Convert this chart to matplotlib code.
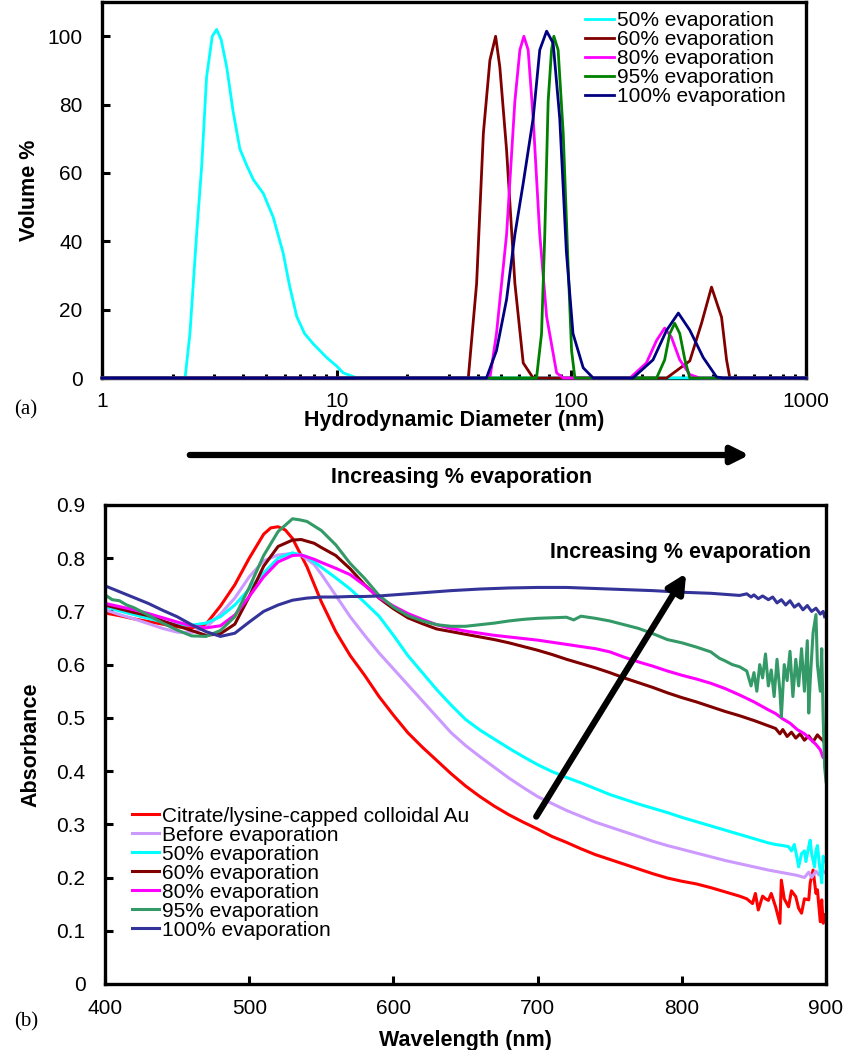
import matplotlib
matplotlib.use("Agg")
import matplotlib.pyplot as plt
from matplotlib.ticker import FuncFormatter, FixedLocator, NullFormatter

plt.rcParams['font.family'] = ['Liberation Sans', 'DejaVu Sans']
plt.rcParams['font.size'] = 15

# ---- (a) DLS size distributions ----
dls_labels = ['50% evaporation', '60% evaporation', '80% evaporation',
              '95% evaporation', '100% evaporation']
dls_colors = ['#00FFFF', '#800000', '#FF00FF', '#008000', '#000080']

d50 = [1.0, 2.26, 2.37, 2.53, 2.66, 2.79, 2.95, 3.08, 3.22, 3.40, 3.62, 3.87, 4.15, 4.42, 4.87,
       5.37, 5.92, 6.3, 6.76, 7.3, 7.95, 9.06, 10.0, 10.67, 12.2, 1000]
v50 = [0, 0, 13, 42, 62, 88, 100, 102, 99, 91, 78, 67, 62, 58, 54,
       47, 36.5, 27, 18, 13, 10, 6, 3.5, 1.5, 0, 0]

d60 = [1.0, 36.4, 39.5, 42.2, 45.0, 47.6, 49.6, 53.0, 57.5, 62.4, 68.8,
       255, 320, 359, 396, 437, 459, 474, 1000]
v60 = [0, 0, 27.7, 71.6, 93, 100, 91, 66.7, 27.7, 4.4, 0,
       0, 5, 16, 26.6, 17.8, 5.3, 0, 0]

d80 = [1.0, 45, 48, 53, 57.5, 60.4, 62.8, 65.5, 68.8, 73.4, 78.5, 86.6, 92.4,
       178, 209, 231, 250, 267, 290, 320, 353, 1000]
v80 = [0, 0, 13, 42, 81, 96, 100, 96, 76, 42, 18, 1.5, 0,
       0, 4.4, 11, 14.6, 12, 5.3, 1, 0, 0]

d95 = [1.0, 71.1, 74.7, 77.1, 79.7, 82.4, 84.3, 87.9, 92.4, 97.0, 100.3, 103.6,
       231, 250, 263, 276, 290, 305, 320, 1000]
v95 = [0, 0, 13, 42, 81, 96, 100, 96, 71.6, 32.5, 8, 0,
       0, 5.3, 13, 16, 13, 5.3, 0, 0]

d100 = [1.0, 43.5, 48, 53, 57.5, 62.4, 68.8, 73.4, 78.5, 83.7, 89.3, 95.3, 101.7, 112.4, 124,
        183, 223, 255, 286, 320, 365, 416, 444, 1000]
v100 = [0, 0, 8, 23, 42, 57, 76, 96, 101.5, 98, 76, 37, 13, 3, 0,
        0, 5.3, 14, 19, 14, 6, 0.3, 0, 0]

dls_x = [d50, d60, d80, d95, d100]
dls_y = [v50, v60, v80, v95, v100]

# ---- (b) UV-vis spectra ----
uv_labels = ['Citrate/lysine-capped colloidal Au', 'Before evaporation', '50% evaporation',
             '60% evaporation', '80% evaporation', '95% evaporation', '100% evaporation']
uv_colors = ['#FF0000', '#CC99FF', '#00FFFF', '#800000', '#FF00FF', '#339966', '#333399']

wl_red = [400, 410, 420, 430, 440, 450, 460, 470, 480, 490, 500, 510, 515, 520, 525, 530, 540,
          550, 560, 570, 580, 590, 600, 610, 620, 630, 640, 650, 660, 670, 680, 690, 700, 710,
          720, 730, 740, 750, 760, 770, 780, 790, 800, 810, 820, 830, 840, 845, 849, 851, 853,
          856, 858, 860, 862, 865, 868, 869, 871, 874, 876, 879, 881, 883, 885, 888, 889, 891,
          893, 894, 896, 897, 898, 899]
a_red = [.697, .692, .686, .681, .676, .671, .669, .676, .71, .75, .80, .845, .857, .859, .853,
         .837, .784, .718, .662, .617, .58, .54, .505, .472, .445, .42, .395, .372, .352, .334,
         .318, .304, .291, .277, .266, .254, .243, .234, .225, .216, .207, .199, .193, .188, .181,
         .173, .165, .16, .151, .17, .139, .165, .16, .157, .17, .145, .114, .195, .16, .145,
         .175, .164, .142, .133, .16, .158, .19, .214, .17, .177, .117, .158, .114, .13]

wl_before = [400, 410, 420, 430, 440, 450, 460, 470, 480, 490, 500, 510, 520, 530, 536, 545, 550,
             560, 570, 580, 590, 600, 610, 620, 630, 640, 650, 660, 670, 680, 690, 700, 710, 720,
             730, 740, 750, 760, 770, 780, 790, 800, 810, 820, 830, 840, 850, 860, 870, 880, 885,
             888, 890, 893, 895, 897, 899]
a_before = [.703, .694, .686, .677, .668, .661, .66, .67, .695, .725, .765, .795, .806, .809,
            .806, .788, .77, .73, .69, .655, .622, .592, .562, .532, .502, .472, .448, .427,
            .407, .387, .369, .352, .339, .326, .315, .304, .295, .286, .277, .268, .26, .253,
            .246, .239, .232, .226, .22, .214, .209, .204, .2, .21, .2, .212, .205, .215, .21]

wl_50 = [400, 410, 420, 430, 440, 450, 460, 470, 480, 490, 500, 510, 520, 530, 540, 550, 560,
         570, 580, 590, 600, 610, 620, 630, 640, 650, 660, 670, 680, 690, 700, 710, 720, 730, 740,
         750, 760, 770, 780, 790, 800, 810, 820, 830, 840, 850, 860, 865, 870, 874, 876, 878, 880,
         881, 883, 885, 886, 888, 889, 890, 892, 893, 894, 895, 896, 897, 898, 899]
a_50 = [.709, .701, .694, .687, .68, .675, .674, .678, .69, .712, .742, .772, .8, .81, .803,
        .783, .763, .742, .717, .691, .655, .617, .585, .553, .524, .497, .477, .46, .443, .427,
        .412, .399, .388, .378, .367, .356, .347, .338, .33, .322, .313, .305, .297, .289, .281,
        .273, .265, .262, .26, .258, .25, .262, .235, .22, .245, .25, .23, .258, .27, .245, .22,
        .25, .26, .235, .21, .19, .24, .23]

wl_60 = [400, 410, 420, 430, 440, 450, 460, 470, 480, 490, 500, 510, 520, 530, 536, 545, 550,
         560, 570, 580, 590, 600, 610, 620, 630, 640, 650, 660, 670, 680, 690, 700, 710, 720, 730,
         740, 750, 760, 770, 780, 790, 800, 810, 820, 830, 840, 850, 860, 865, 868, 870, 873, 876,
         879, 882, 885, 888, 891, 894, 896, 898, 899]
a_60 = [.712, .705, .698, .692, .682, .673, .664, .655, .658, .676, .728, .785, .822, .834, .835,
        .828, .82, .805, .78, .75, .725, .705, .688, .677, .667, .662, .657, .652, .647, .641,
        .634, .627, .619, .61, .602, .594, .585, .575, .566, .557, .547, .538, .53, .521, .512,
        .504, .495, .485, .48, .47, .478, .465, .473, .462, .47, .458, .466, .455, .468, .462,
        .457, .452]

wl_80 = [400, 410, 420, 430, 440, 450, 460, 470, 480, 490, 500, 510, 520, 530, 536, 545, 550,
         560, 570, 580, 590, 600, 610, 620, 630, 640, 650, 660, 670, 680, 690, 700, 710, 720, 730,
         740, 750, 760, 770, 780, 790, 800, 810, 820, 830, 840, 850, 860, 865, 870, 875, 880, 885,
         890, 893, 896, 898, 899]
a_80 = [.715, .709, .703, .696, .688, .68, .673, .669, .673, .693, .728, .765, .793, .805, .806,
        .798, .792, .781, .769, .749, .726, .71, .696, .685, .675, .668, .663, .659, .655, .652,
        .649, .646, .642, .638, .634, .63, .624, .614, .605, .597, .588, .58, .573, .565, .555,
        .543, .53, .515, .508, .498, .49, .478, .47, .458, .45, .44, .425, .43]

wl_95 = [400, 405, 410, 415, 420, 430, 440, 450, 460, 470, 480, 490, 500, 510, 520, 530, 535,
         540, 550, 560, 570, 580, 590, 600, 610, 620, 630, 640, 650, 660, 670, 680, 690, 700, 710,
         720, 725, 730, 740, 750, 760, 770, 780, 790, 800, 810, 820, 826, 830, 835, 840, 845, 848,
         850, 852, 854, 856, 858, 860, 862, 864, 866, 868, 869, 871, 873, 875, 877, 879, 881, 883,
         885, 887, 888, 889, 891, 893, 894, 896, 897, 898, 899, 900]
a_95 = [.731, .722, .72, .712, .707, .693, .678, .665, .654, .653, .664, .69, .745, .805, .85,
        .874, .872, .869, .852, .825, .79, .762, .73, .708, .692, .682, .675, .672, .672, .675,
        .678, .682, .685, .687, .688, .689, .684, .691, .687, .682, .675, .668, .658, .647, .641,
        .633, .624, .612, .607, .6, .596, .588, .56, .585, .55, .6, .575, .62, .56, .59, .54,
        .61, .55, .502, .6, .57, .625, .54, .61, .56, .63, .55, .645, .509, .57, .66, .694, .6,
        .55, .63, .5, .408, .38]

wl_100 = [400, 410, 420, 430, 440, 450, 460, 470, 480, 490, 500, 510, 520, 530, 540, 550, 560,
          570, 580, 590, 600, 620, 640, 660, 680, 700, 720, 740, 760, 780, 800, 820, 830, 840,
          845, 848, 850, 853, 856, 860, 863, 866, 869, 872, 875, 878, 881, 884, 887, 890, 893,
          896, 898, 899]
a_100 = [.748, .737, .726, .715, .702, .69, .675, .662, .653, .659, .68, .7, .712, .721, .725,
         .727, .727, .728, .728, .729, .731, .735, .739, .742, .744, .745, .745, .743, .741, .739,
         .736, .734, .732, .73, .733, .727, .731, .724, .729, .722, .727, .716, .722, .712, .72,
         .708, .714, .703, .711, .7, .706, .695, .7, .69]

uv_x = [wl_red, wl_before, wl_50, wl_60, wl_80, wl_95, wl_100]
uv_y = [a_red, a_before, a_50, a_60, a_80, a_95, a_100]

fig = plt.figure(figsize=(8.43, 10.5), dpi=100)

# ---------------- panel (a) ----------------
ax1 = fig.add_axes([0.121, 0.64, 0.835, 0.358])
for x, y, c, lab in zip(dls_x, dls_y, dls_colors, dls_labels):
    ax1.plot(x, y, color=c, lw=2.0, label=lab, zorder=3, clip_on=False)
ax1.set_xscale('log')
ax1.set_xlim(1, 1000)
ax1.set_ylim(0, 110)
ax1.set_yticks([0, 20, 40, 60, 80, 100])
ax1.xaxis.set_major_locator(FixedLocator([1, 10, 100, 1000]))
ax1.xaxis.set_major_formatter(FuncFormatter(lambda v, p: '%d' % v))
ax1.xaxis.set_minor_formatter(NullFormatter())
ax1.tick_params(axis='both', which='major', direction='in', length=6, width=2.2)
ax1.tick_params(axis='x', which='major', pad=10)
ax1.tick_params(axis='y', which='major', pad=14)
ax1.tick_params(axis='x', which='minor', direction='in', length=3, width=2.2)
for s in ax1.spines.values():
    s.set_linewidth(2.4)
ax1.set_xlabel('Hydrodynamic Diameter (nm)', fontweight='bold', fontsize=15.5)
ax1.xaxis.set_label_coords(0.5, -0.085)
ax1.set_ylabel('Volume %', fontweight='bold', fontsize=15.5)
ax1.yaxis.set_label_coords(-0.088, 0.5)
ax1.legend(loc='upper left', bbox_to_anchor=(0.686, 0.975), frameon=False,
           fontsize=15, handlelength=1.4, handletextpad=0.15, labelspacing=0.0,
           borderpad=0, borderaxespad=0)

fig.text(14 / 843, 1 - 410 / 1050, '(a)', family='Liberation Serif', fontsize=15, va='center')
fig.patches.append(matplotlib.patches.FancyArrowPatch(
    (187 / 843, 1 - 455 / 1050), (752 / 843, 1 - 455 / 1050), transform=fig.transFigure,
    arrowstyle='-|>', mutation_scale=26, lw=4.5, color='black'))
fig.text(462 / 843, 1 - 478 / 1050, 'Increasing % evaporation', fontweight='bold',
         fontsize=15.5, ha='center', va='center')

# ---------------- panel (b) ----------------
ax2 = fig.add_axes([0.1246, 0.0629, 0.8553, 0.4562])
for x, y, c, lab in zip(uv_x, uv_y, uv_colors, uv_labels):
    ax2.plot(x, y, color=c, lw=2.2, label=lab)
ax2.set_xlim(400, 900)
ax2.set_ylim(0, 0.9)
ax2.set_xticks([400, 500, 600, 700, 800, 900])
ax2.set_yticks([0, 0.1, 0.2, 0.3, 0.4, 0.5, 0.6, 0.7, 0.8, 0.9])
ax2.yaxis.set_major_formatter(FuncFormatter(lambda v, p: '%g' % round(v, 1)))
ax2.tick_params(axis='both', direction='in', length=6, width=2.2)
ax2.tick_params(axis='x', pad=11)
ax2.tick_params(axis='y', pad=14)
for s in ax2.spines.values():
    s.set_linewidth(2.4)
ax2.set_xlabel('Wavelength (nm)', fontweight='bold', fontsize=15.5)
ax2.xaxis.set_label_coords(0.5, -0.096)
ax2.set_ylabel('Absorbance', fontweight='bold', fontsize=15.5)
ax2.yaxis.set_label_coords(-0.0875, 0.5)
ax2.legend(loc='upper left', bbox_to_anchor=(0.0375, 0.37), frameon=False,
           fontsize=15, handlelength=1.3, handletextpad=0.15, labelspacing=0.0,
           borderpad=0, borderaxespad=0)
ax2.annotate('', xy=(804, 0.776), xytext=(698, 0.31),
             arrowprops=dict(arrowstyle='-|>', mutation_scale=28, lw=4.5, color='black'))
ax2.text(799, 0.81, 'Increasing % evaporation', fontweight='bold', fontsize=15.5,
         ha='center', va='center')

fig.text(14 / 843, 1 - 1022 / 1050, '(b)', family='Liberation Serif', fontsize=15, va='center')

fig.savefig('out.png', dpi=100)
